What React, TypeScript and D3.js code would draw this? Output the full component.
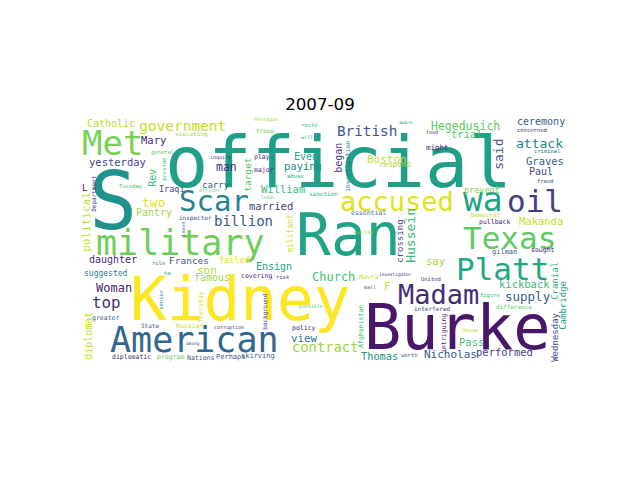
import * as d3 from "d3";

const W = 640;
const H = 480;
const title = "2007-09";

// word cloud canvas is 496 x 248 units, shown like an imshow image
const cloudW = 496;
const cloudH = 248;

// large words
const bigWords = ["official", "S", "Ran", "Kidney", "Burke", "American", "military", "Met", "accused", "Texas", "Platt", "Madam", "oil", "wa", "Scar"];
const bigSize = [72, 80, 58, 61, 62, 35, 35, 34, 27, 31, 31, 27, 31, 33, 29];
const bigTone = [0.56, 0.5, 0.58, 1, 0.06, 0.33, 0.78, 0.8, 0.95, 0.75, 0.6, 0.12, 0.18, 0.58, 0.45];
const bigX = [85, 9, 216, 50, 284, 30, 16, 2, 260, 383, 376, 318, 427, 383, 99];
const bigY = [68, 110, 136, 201, 230, 233, 136, 36, 92, 130, 161, 185, 93, 92, 92];

// medium words
const midWords = ["government", "British", "billion", "contract", "attack", "supply", "two", "top", "Church", "Woman", "Hegedusich", "man", "Nicholas", "Boston", "son", "view", "Mary", "yesterday", "trial", "William", "married", "paying", "Graves", "Makanda", "say", "kickback", "Pass", "performed", "Thomas", "Even", "Paul", "ceremony", "Catholic", "Pantry", "daughter", "famous", "Ensign", "F", "Frances", "L", "carry", "Iraqi", "prevent", "failed", "suggested", "might", "respond", "gilman", "Perhaps", "skirving"];
const midSize = [14.5, 14.3, 14, 13.8, 13, 12.5, 13, 15.8, 12, 12, 11.5, 11.5, 11, 11, 11, 10.8, 10.5, 10.5, 10.5, 10.5, 10.5, 10.5, 10.5, 10.5, 10.5, 10.5, 10.5, 10.5, 10.3, 10, 10, 10, 10, 10, 10, 10, 10, 10, 9.5, 9, 9, 8.5, 8.5, 8.5, 8, 7.5, 7.5, 7, 7, 7];
const midTone = [0.9, 0.27, 0.27, 0.85, 0.45, 0.27, 0.95, 0.13, 0.7, 0.1, 0.75, 0.12, 0.27, 0.9, 0.87, 0.38, 0.1, 0.22, 0.72, 0.68, 0.2, 0.5, 0.27, 0.9, 0.85, 0.68, 0.7, 0.2, 0.5, 0.62, 0.22, 0.28, 0.88, 0.85, 0.12, 0.85, 0.58, 0.9, 0.27, 0.02, 0.27, 0.22, 0.8, 0.95, 0.4, 0.1, 0.87, 0.27, 0.25, 0.27];
const midX = [59, 257, 134, 212, 436, 425, 62, 12, 232, 16, 351, 136, 344, 287, 117, 211, 61, 9, 371, 181, 169, 204, 446, 439, 346, 419, 379, 396, 281, 214, 449, 437, 7, 56, 9, 114, 176, 304, 89, 2, 122, 79, 384, 139, 4, 346, 299, 412, 136, 161];
const midY = [12.5, 17, 107, 233, 29, 182, 88, 189, 162, 173, 11, 52, 239, 44, 155, 223, 25.5, 47, 19, 74, 91, 51, 46, 106, 146, 169, 227, 237, 241, 41, 56, 6, 8.5, 97, 144, 162, 151, 171, 145, 72, 69, 73, 74, 144, 157, 31, 48, 135, 240, 239];

// small words
const smallWords = ["violating", "general", "inquiry", "Tuesday", "officer", "inspector", "Pentagon", "troop", "route", "will", "play", "major", "abuse", "sanction", "least", "essential", "suicide", "aware", "food", "concerned", "criminal", "fraud", "Democrat", "pullback", "sought", "United", "investigator", "figure", "difference", "interfered", "House", "worth", "policy", "possible", "Mavra", "mall", "covering", "risk", "rule", "ha", "greater", "State", "Russian", "corruption", "among", "diplomatic", "program", "Nations"];
const smallSize = [6, 5.5, 5, 5.5, 5, 6, 5, 6, 5.5, 5, 6.5, 6.5, 5.5, 6, 4.5, 6.5, 4.5, 4.5, 5, 5.5, 5.5, 5.5, 6, 6.5, 6.5, 5.5, 4.5, 5.5, 6, 6, 5.5, 5.5, 6.5, 5, 6.5, 5, 6.5, 5.5, 5.5, 5.5, 6.5, 6, 6.5, 5, 4.5, 6.5, 6.5, 6.5];
const smallTone = [0.85, 0.75, 0.15, 0.72, 0.75, 0.22, 0.85, 0.78, 0.68, 0.65, 0.1, 0.1, 0.6, 0.65, 0.75, 0.4, 0.85, 0.5, 0.1, 0.1, 0.42, 0.27, 0.9, 0.1, 0.1, 0.22, 0.1, 0.68, 0.75, 0.22, 0.9, 0.27, 0.1, 0.75, 0.9, 0.27, 0.1, 0.22, 0.45, 0.65, 0.3, 0.27, 0.92, 0.12, 0.27, 0.12, 0.78, 0.27];
const smallX = [95, 71, 130, 39, 119, 99, 174, 176, 221, 221, 174, 174, 207, 229, 181, 271, 274, 319, 346, 437, 454, 457, 391, 399, 451, 341, 299, 400, 416, 334, 382, 321, 212, 219, 279, 284, 161, 196, 72, 84, 12, 61, 96, 134, 106, 32, 77, 107];
const smallY = [17, 35, 40, 69, 73, 101, 2, 14, 8, 20, 40, 53, 59, 77, 80, 96, 115, 5, 15, 13, 34, 64, 98, 105, 133, 162, 157, 178, 190, 192, 213, 238, 211, 189, 160, 170, 159, 160, 146, 156, 201, 209, 209, 210, 226, 240, 240, 241];

// words turned upright (read bottom to top); x = baseline, y = start
const upWords = ["provide", "Department", "Rev", "political", "leave", "target", "began", "investigation", "militant", "crossing", "said", "Hussein", "Cranial", "Cambridge", "Wednesday", "senior", "Thursday", "diplomat", "background", "Afghanistan", "intriguing"];
const upSize = [5.5, 6, 10, 11, 5, 9.5, 10, 6.5, 8, 9, 13, 13, 9, 9, 9, 5.5, 6.5, 10, 6, 6.5, 6.5];
const upTone = [0.68, 0.15, 0.68, 0.9, 0.4, 0.72, 0.17, 0.45, 0.93, 0.22, 0.27, 0.68, 0.65, 0.55, 0.22, 0.45, 0.93, 0.9, 0.22, 0.68, 0.1];
const upX = [86, 16, 76, 10, 105, 171, 262, 270, 213, 323, 423, 335, 478, 486, 478, 83, 123, 12, 187, 283, 366];
const upY = [62, 93, 68, 133, 118, 73, 54, 73, 134, 144, 51, 144, 181, 211, 243, 191, 204, 241, 211, 229, 234];

type Word = { text: string; size: number; tone: number; x: number; y: number; up: boolean };

const collect = (t: string[], s: number[], c: number[], xs: number[], ys: number[], up: boolean): Word[] =>
  t.map((text, i) => ({ text, size: s[i], tone: c[i], x: xs[i], y: ys[i], up }));

const allWords: Word[] = [
  ...collect(bigWords, bigSize, bigTone, bigX, bigY, false),
  ...collect(midWords, midSize, midTone, midX, midY, false),
  ...collect(smallWords, smallSize, smallTone, smallX, smallY, false),
  ...collect(upWords, upSize, upTone, upX, upY, true),
];

export default function App() {
  // image extent of the cloud inside the figure
  const x = d3.scaleLinear().domain([0, cloudW]).range([80, 576]);
  const y = d3.scaleLinear().domain([0, cloudH]).range([118.8, 366.8]);
  const k = x(1) - x(0);

  return (
    <svg
      width={W}
      height={H}
      style={{ position: "absolute", left: 0, top: 0, background: "#fff" }}
    >
      <text
        x={320}
        y={110}
        textAnchor="middle"
        fontFamily="DejaVu Sans"
        fontSize={16.7}
        fill="#000"
      >
        {title}
      </text>
      <g fontFamily="DejaVu Sans Mono">
        {allWords.map((w, i) => (
          <text
            key={i}
            transform={`translate(${x(w.x)},${y(w.y)})${w.up ? " rotate(-90)" : ""}`}
            fontSize={w.size * k}
            fill={d3.interpolateViridis(w.tone)}
          >
            {w.text}
          </text>
        ))}
      </g>
    </svg>
  );
}
